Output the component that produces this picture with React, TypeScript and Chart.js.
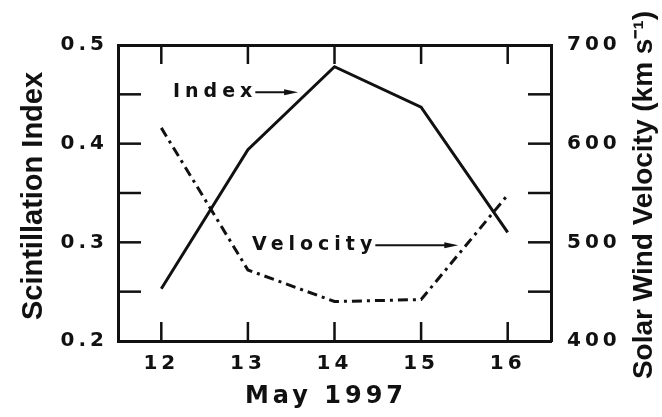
import React, { useEffect, useRef } from "react";
import { Chart, registerables } from "chart.js";

Chart.register(...registerables);

// ---- data ----
const days = [12, 13, 14, 15, 16];
const scintillationIndex = [0.253, 0.394, 0.478, 0.437, 0.31];
const windVelocity = [616, 472, 440, 442, 548];

const xTicks = [12, 13, 14, 15, 16];
const leftTicks = [0.2, 0.25, 0.3, 0.35, 0.4, 0.45, 0.5];
const leftLabels = [0.2, 0.3, 0.4, 0.5];
const rightTicks = [400, 450, 500, 550, 600, 650, 700];
const rightLabels = [400, 500, 600, 700];

const xTitle = "May 1997";
const leftTitle = "Scintillation Index";
const rightTitle = "Solar Wind Velocity (km s\u207B\u00B9)";

const INK = "#111";
const TICK_FONT = "'DejaVu Sans', sans-serif";
const TITLE_FONT = "'Liberation Sans', Arial, sans-serif";

const framePlugin = {
  id: "framePlugin",
  beforeDraw(chart: any) {
    const ctx = chart.ctx;
    ctx.save();
    ctx.letterSpacing = "4px";
  },
  afterDraw(chart: any) {
    const ctx = chart.ctx;
    ctx.restore();
    const { left, right, top, bottom } = chart.chartArea;
    const sx = chart.scales.x;
    const sy = chart.scales.y;
    const sy1 = chart.scales.y1;

    ctx.save();
    ctx.strokeStyle = INK;
    ctx.lineWidth = 2.5;
    ctx.lineCap = "butt";
    // inward ticks, bottom and top
    for (const v of xTicks) {
      const px = sx.getPixelForValue(v);
      ctx.beginPath();
      ctx.moveTo(px, bottom);
      ctx.lineTo(px, bottom - 19);
      ctx.moveTo(px, top);
      ctx.lineTo(px, top + 19);
      ctx.stroke();
    }
    // inward ticks, left
    for (const v of leftTicks) {
      if (v === leftTicks[0] || v === leftTicks[leftTicks.length - 1]) continue;
      const py = sy.getPixelForValue(v);
      ctx.beginPath();
      ctx.moveTo(left, py);
      ctx.lineTo(left + 23, py);
      ctx.stroke();
    }
    // inward ticks, right
    for (const v of rightTicks) {
      if (v === rightTicks[0] || v === rightTicks[rightTicks.length - 1]) continue;
      const py = sy1.getPixelForValue(v);
      ctx.beginPath();
      ctx.moveTo(right, py);
      ctx.lineTo(right - 23, py);
      ctx.stroke();
    }
    ctx.restore();

    // annotations with arrows
    const notes = chart.options.plugins.framePlugin.notes;
    for (const n of notes) {
      const x0 = sx.getPixelForValue(n.x);
      const x1 = sx.getPixelForValue(n.tipX);
      const y = sy.getPixelForValue(n.y);
      ctx.save();
      ctx.letterSpacing = "5px";
      ctx.font = `bold 19px ${TICK_FONT}`;
      ctx.fillStyle = INK;
      ctx.textAlign = "left";
      ctx.textBaseline = "middle";
      ctx.fillText(n.text, x0, y);
      const w = ctx.measureText(n.text).width;
      const start = x0 + w - 2;
      ctx.strokeStyle = INK;
      ctx.lineWidth = 2;
      ctx.beginPath();
      ctx.moveTo(start, y);
      ctx.lineTo(x1 - 8, y);
      ctx.stroke();
      ctx.beginPath();
      ctx.moveTo(x1, y);
      ctx.lineTo(x1 - 14, y - 3);
      ctx.lineTo(x1 - 14, y + 3);
      ctx.closePath();
      ctx.fill();
      ctx.restore();
    }

    // axis titles
    ctx.save();
    ctx.fillStyle = INK;
    ctx.textAlign = "center";
    ctx.textBaseline = "alphabetic";
    ctx.font = `bold 29px ${TITLE_FONT}`;
    ctx.save();
    ctx.translate(42, 196);
    ctx.rotate(-Math.PI / 2);
    ctx.fillText(leftTitle, 0, 0);
    ctx.restore();
    ctx.font = `bold 28px ${TITLE_FONT}`;
    ctx.save();
    ctx.translate(652, 195);
    ctx.rotate(-Math.PI / 2);
    ctx.fillText(rightTitle, 0, 0);
    ctx.restore();
    ctx.letterSpacing = "4px";
    ctx.font = `bold 24px ${TICK_FONT}`;
    ctx.fillText(xTitle, 326, 403);
    ctx.restore();
  },
};

export default function App() {
  const ref = useRef<HTMLCanvasElement | null>(null);

  useEffect(() => {
    if (!ref.current) return;
    const tickFont = { family: TICK_FONT, size: 20, weight: "bold" as const };
    const chart = new Chart(ref.current, {
      type: "line",
      data: {
        datasets: [
          {
            label: "Index",
            data: days.map((d, i) => ({ x: d, y: scintillationIndex[i] })),
            xAxisID: "x",
            yAxisID: "y",
            borderColor: INK,
            borderWidth: 3,
            pointRadius: 0,
            tension: 0,
            fill: false,
          },
          {
            label: "Velocity",
            data: days.map((d, i) => ({ x: d, y: windVelocity[i] })),
            xAxisID: "x",
            yAxisID: "y1",
            borderColor: INK,
            borderWidth: 3,
            borderDash: [10, 5, 3, 5],
            pointRadius: 0,
            tension: 0,
            fill: false,
          },
        ],
      },
      options: {
        responsive: false,
        animation: false,
        layout: { padding: 0 },
        plugins: {
          legend: { display: false },
          tooltip: { enabled: false },
          framePlugin: {
            notes: [
              { text: "Index", x: 12.135, tipX: 13.58, y: 0.452 },
              { text: "Velocity", x: 13.047, tipX: 15.43, y: 0.297 },
            ],
          },
        } as any,
        scales: {
          x: {
            type: "linear",
            position: "bottom",
            min: 11.5,
            max: 16.5,
            afterBuildTicks: (s: any) => {
              s.ticks = xTicks.map((v) => ({ value: v }));
            },
            afterFit: (s: any) => {
              s.height = 76;
            },
            grid: { display: false },
            border: { display: true, width: 3, color: INK },
            ticks: {
              autoSkip: false,
              maxRotation: 0,
              padding: 3,
              color: INK,
              font: tickFont,
              callback: (v: any) => String(v),
            },
          },
          xTop: {
            type: "linear",
            position: "top",
            min: 11.5,
            max: 16.5,
            afterFit: (s: any) => {
              s.height = 45;
            },
            grid: { display: false },
            border: { display: true, width: 3, color: INK },
            ticks: { display: false },
          },
          y: {
            type: "linear",
            position: "left",
            min: 0.2,
            max: 0.5,
            afterBuildTicks: (s: any) => {
              s.ticks = leftTicks.map((v) => ({ value: v }));
            },
            afterFit: (s: any) => {
              s.width = 118;
            },
            grid: { display: false },
            border: { display: true, width: 3, color: INK },
            ticks: {
              padding: 2,
              color: INK,
              font: tickFont,
              autoSkip: false,
              callback: (v: any) => (leftLabels.includes(v) ? Number(v).toFixed(1) : ""),
            },
          },
          y1: {
            type: "linear",
            position: "right",
            min: 400,
            max: 700,
            afterBuildTicks: (s: any) => {
              s.ticks = rightTicks.map((v) => ({ value: v }));
            },
            afterFit: (s: any) => {
              s.width = 111;
            },
            grid: { display: false },
            border: { display: true, width: 3, color: INK },
            ticks: {
              padding: 8,
              color: INK,
              font: tickFont,
              autoSkip: false,
              callback: (v: any) => (rightLabels.includes(v) ? String(v) : ""),
            },
          },
        },
      } as any,
      plugins: [framePlugin],
    });
    return () => chart.destroy();
  }, []);

  return (
    <div style={{ position: "absolute", left: 0, top: 0, width: 662, height: 417, background: "#fff" }}>
      <canvas ref={ref} width={662} height={417} style={{ display: "block" }} />
    </div>
  );
}
